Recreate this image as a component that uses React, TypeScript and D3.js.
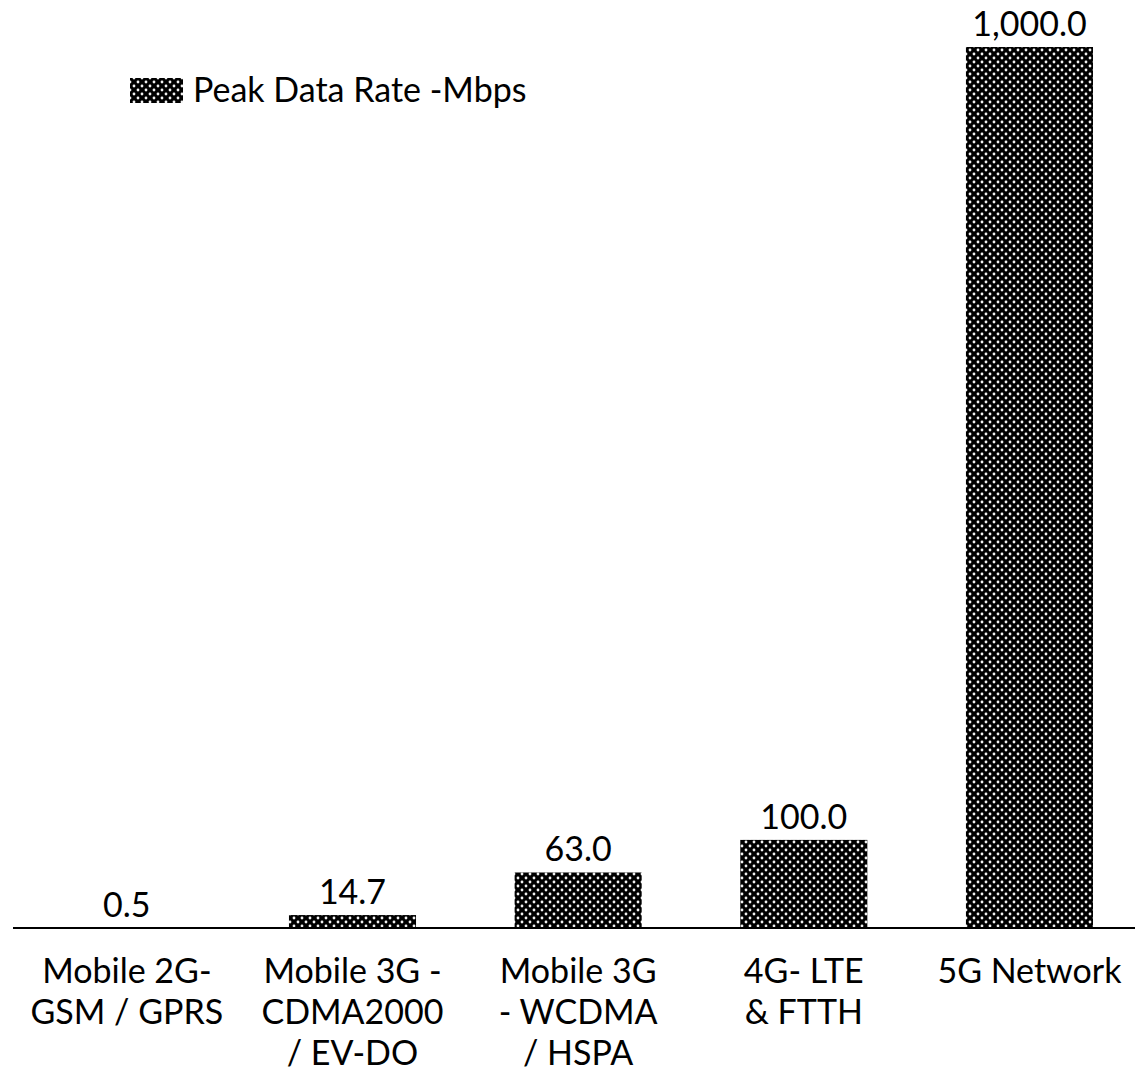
import React from "react";
import * as d3 from "d3";

const categories: string[][] = [
  ["Mobile 2G-", "GSM / GPRS"],
  ["Mobile 3G -", "CDMA2000", "/ EV-DO"],
  ["Mobile 3G", "- WCDMA", "/ HSPA"],
  ["4G- LTE", "& FTTH"],
  ["5G Network"],
];
const values: number[] = [0.5, 14.7, 63.0, 100.0, 1000.0];
const seriesName = "Peak Data Rate -Mbps";

const W = 1135;
const H = 1078;
const FONT = "Lato, 'Open Sans', sans-serif";

export default function App() {
  const keys = categories.map((c) => c.join(" "));
  const x = d3
    .scaleBand<string>()
    .domain(keys)
    .range([14, 1142.3])
    .paddingInner(0.437)
    .paddingOuter(0.2185);
  const y = d3.scaleLinear().domain([0, 1000]).range([928, 47]);
  const fmt = d3.format(",.1f");

  return (
    <svg
      width={W}
      height={H}
      style={{ position: "absolute", left: 0, top: 0, background: "#fff" }}
      fontFamily={FONT}
    >
      <defs>
        <pattern id="dots" width={8} height={8} patternUnits="userSpaceOnUse">
          <rect width={8} height={8} fill="#000" />
          <circle cx={2} cy={2} r={1.4} fill="#f2f2f2" />
          <circle cx={6} cy={6} r={1.4} fill="#f2f2f2" />
        </pattern>
      </defs>
      {values.map((v, i) => (
        <rect
          key={keys[i]}
          x={x(keys[i])}
          y={y(v)}
          width={x.bandwidth()}
          height={y(0) - y(v)}
          fill="url(#dots)"
        />
      ))}
      <line x1={13} x2={1142} y1={y(0)} y2={y(0)} stroke="#000" strokeWidth={2.2} />
      {values.map((v, i) => (
        <text
          key={"v" + i}
          x={(x(keys[i]) as number) + x.bandwidth() / 2}
          y={y(v) - 11}
          textAnchor="middle"
          fontSize={34}
          fill="#000"
        >
          {fmt(v)}
        </text>
      ))}
      {categories.map((lines, i) => (
        <text
          key={"c" + i}
          x={(x(keys[i]) as number) + x.bandwidth() / 2}
          y={983}
          textAnchor="middle"
          fontSize={34}
          fill="#000"
        >
          {lines.map((l, j) => (
            <tspan key={j} x={(x(keys[i]) as number) + x.bandwidth() / 2} dy={j === 0 ? 0 : 41}>
              {l}
            </tspan>
          ))}
        </text>
      ))}
      <rect x={130} y={78} width={53} height={25} fill="url(#dots)" />
      <text x={193} y={102} fontSize={34} fill="#000">
        {seriesName}
      </text>
    </svg>
  );
}
